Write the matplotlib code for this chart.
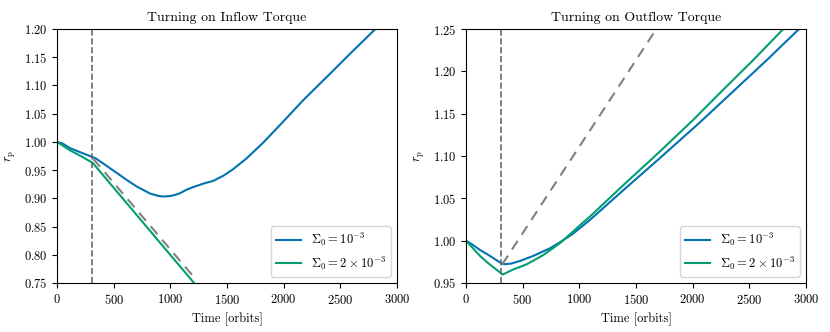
import matplotlib
matplotlib.use('Agg')
import matplotlib.pyplot as plt

plt.rcParams['font.family'] = ['cmr10', 'DejaVu Serif']
plt.rcParams['mathtext.fontset'] = 'cm'
plt.rcParams['axes.formatter.use_mathtext'] = True
plt.rcParams['font.size'] = 9

BLUE = '#0173B2'
GREEN = '#029E73'

t_switch = 310

# Inflow torque panel
in_t1 = [0, 50, 115, 200, 315, 340, 420, 527, 620, 703, 821, 900, 939, 998, 1040,
         1085, 1140, 1203, 1290, 1379, 1468, 1556, 1674, 1821, 1968, 2173, 2400,
         2600, 2830]
in_r1 = [1.000, 0.997, 0.989, 0.982, 0.973, 0.971, 0.960, 0.945, 0.932, 0.921,
         0.9085, 0.904, 0.9033, 0.904, 0.906, 0.909, 0.915, 0.920, 0.926, 0.931,
         0.940, 0.952, 0.971, 0.999, 1.030, 1.074, 1.119, 1.159, 1.204]
in_t2 = [0, 115, 200, 315, 1209]
in_r2 = [1.000, 0.985, 0.976, 0.9628, 0.750]
in_guide_t = [320, 1218]
in_guide_r = [0.970, 0.758]

# Outflow torque panel
out_t1 = [0, 50, 124, 200, 315, 344, 400, 476, 594, 741, 829, 947, 1094, 1400,
          1712, 2050, 2374, 2660, 2939]
out_r1 = [1.000, 0.996, 0.989, 0.983, 0.973, 0.9722, 0.973, 0.976, 0.982, 0.991,
          0.998, 1.0085, 1.0245, 1.061, 1.0976, 1.138, 1.1783, 1.214, 1.250]
out_t2 = [0, 124, 200, 324, 418, 535, 682, 829, 930, 1000, 1094, 1400, 1712, 2000,
          2270, 2540, 2800]
out_r2 = [1.000, 0.982, 0.973, 0.960, 0.966, 0.972, 0.983, 0.997, 1.009, 1.0175,
          1.0285, 1.067, 1.1054, 1.142, 1.1783, 1.214, 1.250]
out_guide_t = [320, 1680]
out_guide_r = [0.972, 1.250]

labels = [r'$\Sigma_0 = 10^{-3}$', r'$\Sigma_0 = 2 \times 10^{-3}$']

fig = plt.figure(figsize=(8.3, 3.32), dpi=100)
ax1 = fig.add_axes([0.0687, 0.1476, 0.4096, 0.765])
ax2 = fig.add_axes([0.5614, 0.1476, 0.4096, 0.765])

panels = [
    (ax1, 'Turning on Inflow Torque', in_t1, in_r1, in_t2, in_r2, in_guide_t, in_guide_r, (0.75, 1.20)),
    (ax2, 'Turning on Outflow Torque', out_t1, out_r1, out_t2, out_r2, out_guide_t, out_guide_r, (0.95, 1.25)),
]

for ax, title, t1, r1, t2, r2, gt, gr, ylim in panels:
    ax.plot(t1, r1, color=BLUE, lw=1.5, label=labels[0])
    ax.plot(t2, r2, color=GREEN, lw=1.5, label=labels[1])
    ax.plot(gt, gr, color='gray', ls=(0, (5, 3.5)), lw=1.5)
    ax.axvline(t_switch, color='dimgray', ls='--', lw=1.2)
    ax.set_xlim(0, 3000)
    ax.set_ylim(*ylim)
    ax.set_title(title, fontsize=10)
    ax.set_xlabel('Time [orbits]')
    ax.set_ylabel(r'$r_{\rm p}$')
    ax.legend(loc='lower right', fontsize=9)

fig.savefig('out.png', dpi=100)
